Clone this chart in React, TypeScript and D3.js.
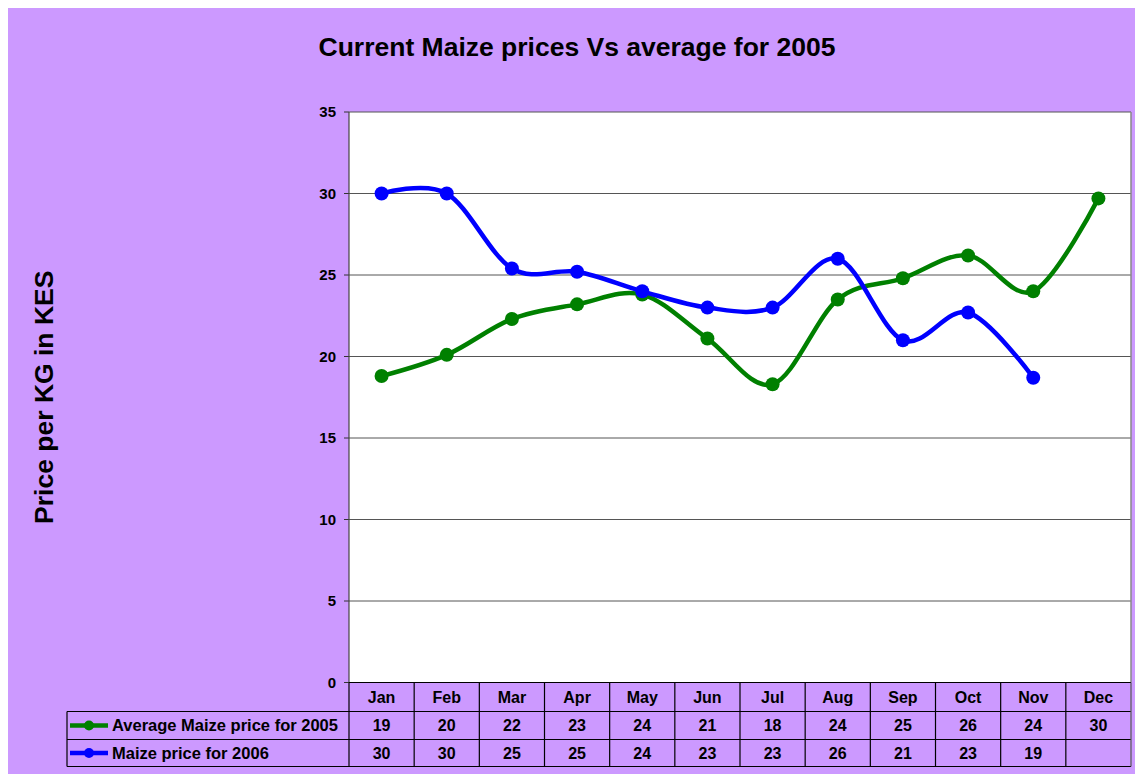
import React from "react";
import * as d3 from "d3";

const months = ["Jan", "Feb", "Mar", "Apr", "May", "Jun", "Jul", "Aug", "Sep", "Oct", "Nov", "Dec"];
const avg2005: (number | null)[] = [18.8, 20.1, 22.3, 23.2, 23.8, 21.1, 18.3, 23.5, 24.8, 26.2, 24.0, 29.7];
const price2006: (number | null)[] = [30.0, 30.0, 25.4, 25.2, 24.0, 23.0, 23.0, 26.0, 21.0, 22.7, 18.7, null];
const yTicks = [0, 5, 10, 15, 20, 25, 30, 35];
const seriesNames = ["Average Maize price for 2005", "Maize price for 2006"];
const seriesColors = ["#008000", "#0000FF"];

const FONT = "Arial, 'Liberation Sans', sans-serif";

export default function App() {
  const W = 1135;
  const H = 774;
  const left = 349, right = 1131, top = 112, bottom = 682.5;
  const x = d3.scaleBand<string>().domain(months).range([left, right]);
  const y = d3.scaleLinear().domain([0, 35]).range([bottom, top]);
  const cx = (m: string) => (x(m) as number) + x.bandwidth() / 2;

  const series = [avg2005, price2006];
  const line = d3
    .line<[string, number | null]>()
    .defined((d) => d[1] != null)
    .x((d) => cx(d[0]))
    .y((d) => y(d[1] as number))
    .curve(d3.curveCardinal.tension(0));

  const row1 = 682.5, row2 = 711.5, row3 = 739.5, row4 = 766.5;
  const legendLeft = 67;
  const fmt = (v: number | null) => (v == null ? "" : String(Math.round(v)));

  return (
    <svg
      width={W}
      height={H}
      style={{ display: "block", position: "fixed", left: 0, top: 0 }}
    >
      <rect x={0} y={0} width={W} height={H} fill="#FFFFFF" />
      <rect x={8} y={8} width={W - 8} height={H - 8} fill="#CC99FF" />
      <rect x={left} y={top} width={right - left} height={bottom - top} fill="#FFFFFF" />
      {/* gridlines */}
      {yTicks.map((t) => (
        <g key={t}>
          {t > 0 && (
            <line x1={left} x2={right} y1={y(t)} y2={y(t)} stroke="#555" strokeWidth={1} />
          )}
          <line x1={left - 5} x2={left} y1={y(t)} y2={y(t)} stroke="#333" strokeWidth={1} />
          <text
            x={336}
            y={y(t)}
            dy="0.35em"
            textAnchor="end"
            fontFamily={FONT}
            fontWeight="bold"
            fontSize={15}
            fill="#000"
          >
            {t}
          </text>
        </g>
      ))}
      <line x1={right} x2={right} y1={top} y2={bottom} stroke="#888" strokeWidth={1.5} />
      <line x1={left} x2={left} y1={top} y2={bottom} stroke="#444" strokeWidth={1.2} />

      {/* series */}
      {series.map((s, i) => {
        const pts = months.map((m, j) => [m, s[j]] as [string, number | null]);
        return (
          <g key={i}>
            <path d={line(pts) || ""} fill="none" stroke={seriesColors[i]} strokeWidth={4.5} />
            {pts
              .filter((p) => p[1] != null)
              .map((p) => (
                <circle key={p[0]} cx={cx(p[0])} cy={y(p[1] as number)} r={7} fill={seriesColors[i]} />
              ))}
          </g>
        );
      })}

      {/* title */}
      <text
        x={577}
        y={56}
        textAnchor="middle"
        fontFamily={FONT}
        fontWeight="bold"
        fontSize={26.5}
        fill="#000"
      >
        Current Maize prices Vs average for 2005
      </text>
      <text
        transform={`translate(53,${(top + bottom) / 2}) rotate(-90)`}
        textAnchor="middle"
        fontFamily={FONT}
        fontWeight="bold"
        fontSize={26.5}
        fill="#000"
      >
        Price per KG in KES
      </text>

      {/* data table */}
      <g stroke="#000" strokeWidth={1.2}>
        <line x1={left} x2={right} y1={row1} y2={row1} />
        <line x1={legendLeft} x2={right} y1={row2} y2={row2} />
        <line x1={legendLeft} x2={right} y1={row3} y2={row3} />
        <line x1={legendLeft} x2={right} y1={row4} y2={row4} />
        <line x1={legendLeft} x2={legendLeft} y1={row2} y2={row4} />
        {months.map((m) => (
          <line key={m} x1={x(m) as number} x2={x(m) as number} y1={row1} y2={row4} />
        ))}
        <line x1={right} x2={right} y1={row1} y2={row4} stroke="#555" />
      </g>
      {months.map((m, j) => (
        <g key={m} fontFamily={FONT} fontWeight="bold" fontSize={16} fill="#000" textAnchor="middle">
          <text x={cx(m)} y={(row1 + row2) / 2} dy="0.35em">
            {m}
          </text>
          <text x={cx(m)} y={(row2 + row3) / 2} dy="0.35em">
            {fmt(avg2005[j])}
          </text>
          <text x={cx(m)} y={(row3 + row4) / 2} dy="0.35em">
            {fmt(price2006[j])}
          </text>
        </g>
      ))}
      {seriesNames.map((n, i) => {
        const yy = i === 0 ? (row2 + row3) / 2 : (row3 + row4) / 2;
        return (
          <g key={n}>
            <line x1={70} x2={108} y1={yy} y2={yy} stroke={seriesColors[i]} strokeWidth={4.5} />
            <circle cx={89} cy={yy} r={5} fill={seriesColors[i]} />
            <text
              x={112}
              y={yy}
              dy="0.35em"
              fontFamily={FONT}
              fontWeight="bold"
              fontSize={16.5}
              fill="#000"
            >
              {n}
            </text>
          </g>
        );
      })}
    </svg>
  );
}
